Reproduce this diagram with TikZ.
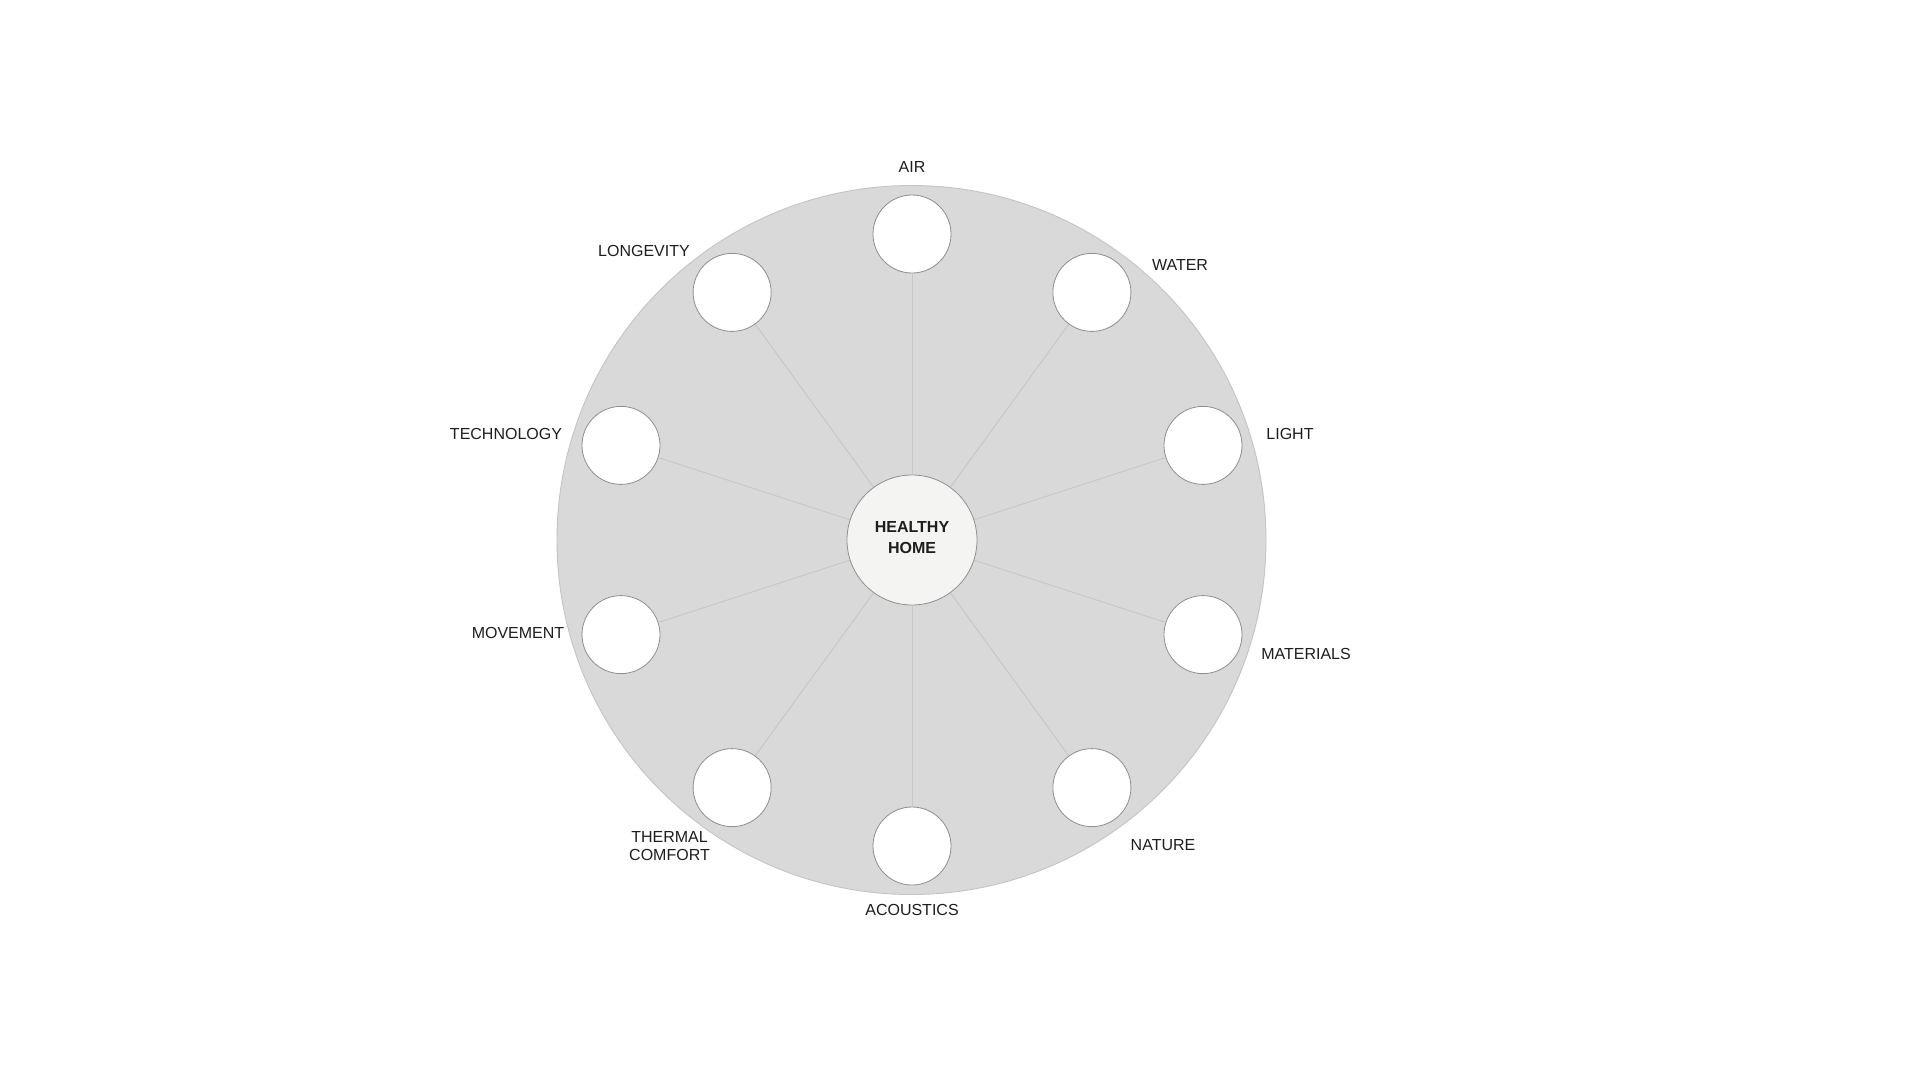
\documentclass[tikz,border=0pt]{standalone}
\usepackage{fontspec}
\setmainfont{Liberation Sans}
\definecolor{discfill}{HTML}{D9D9D9}
\definecolor{discline}{HTML}{C4C4C4}
\definecolor{spokecol}{HTML}{C6C6C6}
\definecolor{ringline}{HTML}{8E8E8E}
\definecolor{hubfill}{HTML}{F4F4F2}
\definecolor{txt}{HTML}{1E1E1E}
\tikzset{
  disc/.style={circle, fill=discfill, draw=discline, line width=0.9pt, minimum size=709pt, inner sep=0pt},
  pillar/.style={circle, fill=white, draw=ringline, line width=0.8pt, minimum size=78pt, inner sep=0pt},
  hub/.style={circle, fill=hubfill, draw=ringline, line width=0.8pt, minimum size=130pt, inner sep=0pt},
  hubtxt/.style={inner sep=0pt, align=center, text=txt, font=\fontsize{16}{20.5}\selectfont\bfseries},
  spoke/.style={draw=spokecol, line width=0.9pt},
  lbl/.style={text=txt, inner sep=0pt, align=center, font=\fontsize{16}{18}\selectfont}
}
\begin{document}
\begin{tikzpicture}[x=1pt,y=-1pt]
\path[use as bounding box, fill=white] (0,0) rectangle (1920,1080);
\node[disc] (disc) at (911.5,540) {};
% pillar circles
\node[pillar] (air) at (912,234) {};
\node[pillar] (water) at (1091.9,292.4) {};
\node[pillar] (light) at (1203.0,445.4) {};
\node[pillar] (materials) at (1203.0,634.6) {};
\node[pillar] (nature) at (1091.9,787.6) {};
\node[pillar] (acoustics) at (912,846) {};
\node[pillar] (thermal) at (732.1,787.6) {};
\node[pillar] (movement) at (621.0,634.6) {};
\node[pillar] (technology) at (621.0,445.4) {};
\node[pillar] (longevity) at (732.1,292.4) {};
\node[hub] (hub) at (912,540) {};
\node[hubtxt] (hubtext) at (912,537.5) {HEALTHY\\HOME};
% spokes
\foreach \p in {air,water,light,materials,nature,acoustics,thermal,movement,technology,longevity}
  \draw[spoke] (hub) -- (\p);
% labels
\node[lbl] (lair) at (912,167) {AIR};
\node[lbl] (lwater) at (1180,265) {WATER};
\node[lbl] (llight) at (1290,434) {LIGHT};
\node[lbl] (lmaterials) at (1306,654) {MATERIALS};
\node[lbl] (lnature) at (1163,845) {NATURE};
\node[lbl] (lacoustics) at (912,910) {ACOUSTICS};
\node[lbl] (lthermal) at (669.5,846) {THERMAL\\COMFORT};
\node[lbl] (lmovement) at (518,633) {MOVEMENT};
\node[lbl] (ltechnology) at (506,434) {TECHNOLOGY};
\node[lbl] (llongevity) at (644,251) {LONGEVITY};
\end{tikzpicture}
\end{document}
